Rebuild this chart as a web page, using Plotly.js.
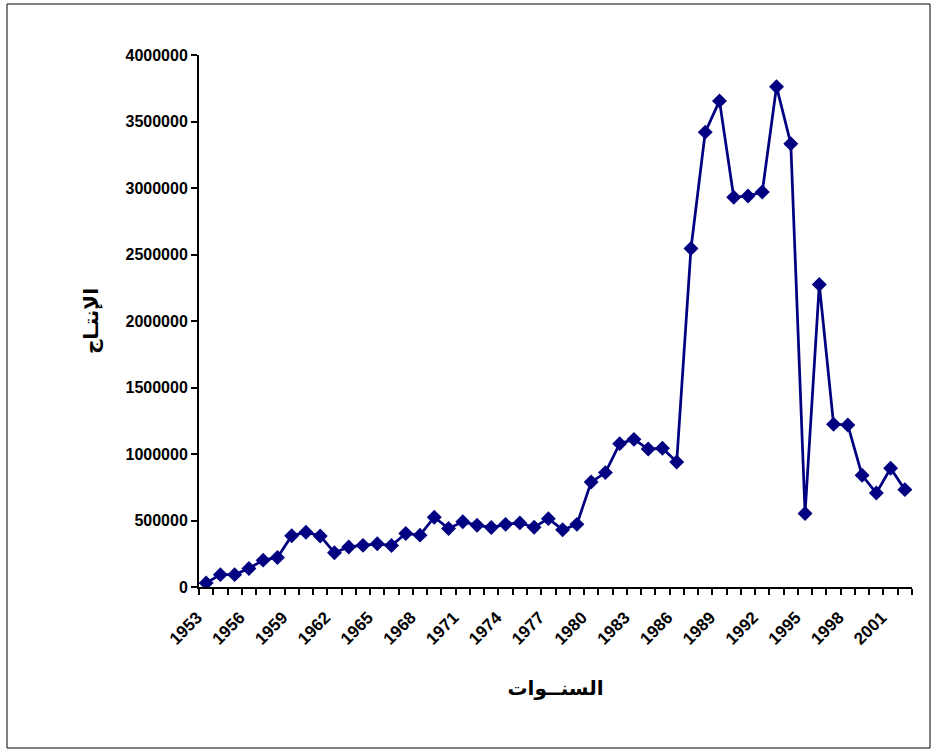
<!DOCTYPE html>
<html>
<head>
<meta charset="utf-8">
<script src="https://cdn.plot.ly/plotly-3.0.1.min.js"></script>
<style>
  html, body { margin: 0; padding: 0; background: #fff; }
  #chart { width: 937px; height: 755px; }
</style>
</head>
<body>
<div id="chart"></div>
<script>
// Years of observation
const years = [
  1953, 1954, 1955, 1956, 1957, 1958, 1959, 1960, 1961, 1962,
  1963, 1964, 1965, 1966, 1967, 1968, 1969, 1970, 1971, 1972,
  1973, 1974, 1975, 1976, 1977, 1978, 1979, 1980, 1981, 1982,
  1983, 1984, 1985, 1986, 1987, 1988, 1989, 1990, 1991, 1992,
  1993, 1994, 1995, 1996, 1997, 1998, 1999, 2000, 2001, 2002
];
// Production (الإنتاج)
const production = [
  30000, 93000, 93000, 139000, 202000, 222000, 386000, 412000, 384000, 258000,
  301000, 313000, 325000, 312000, 403000, 390000, 525000, 440000, 490000, 465000,
  447000, 471000, 482000, 449000, 514000, 431000, 471000, 789000, 860000, 1078000,
  1110000, 1037000, 1043000, 940000, 2545000, 3420000, 3655000, 2930000, 2940000, 2970000,
  3762000, 3333000, 553000, 2275000, 1224000, 1218000, 840000, 706000, 893000, 732000
];
// Labelled years on the category axis
const tickYears = [1953, 1956, 1959, 1962, 1965, 1968, 1971, 1974, 1977, 1980, 1983, 1986, 1989, 1992, 1995, 1998, 2001];
const tickLabels = tickYears.map(String);
const yTicks = [0, 500000, 1000000, 1500000, 2000000, 2500000, 3000000, 3500000, 4000000];
const xTitle = 'السنــوات';
const yTitle = 'الإنتـاج';

const navy = '#000080';
const fontFamily = '"Liberation Sans", Arial, "DejaVu Sans", sans-serif';

const trace = {
  x: years,
  y: production,
  type: 'scatter',
  mode: 'lines+markers',
  line: { color: navy, width: 2.75 },
  marker: { symbol: 'diamond', size: 11.5, color: navy },
  hoverinfo: 'x+y'
};

const L = 199, R = 25, T = 55, B = 168, W = 937, H = 755;
const pw = W - L - R, ph = H - T - B;
const px = v => (v - L) / pw;
const py = v => (H - B - v) / ph;

const layout = {
  width: W,
  height: H,
  margin: { l: L, r: R, t: T, b: B, pad: 0 },
  paper_bgcolor: '#ffffff',
  plot_bgcolor: '#ffffff',
  showlegend: false,
  font: { family: fontFamily, color: '#000000' },
  xaxis: {
    type: 'linear',
    range: [years[0] - 0.5, years[years.length - 1] + 0.5],
    tickmode: 'array',
    tickvals: tickYears,
    ticktext: tickLabels,
    tickangle: -45,
    ticks: '',
    ticklabelshift: -9,
    ticklabelstandoff: 12,
    showgrid: false,
    zeroline: false,
    showline: true,
    linecolor: '#000000',
    linewidth: 2,
    tickfont: { family: fontFamily, size: 17, color: '#000000', weight: 'bold' },
    minor: {
      tickmode: 'linear',
      tick0: years[0] - 0.5,
      dtick: 1,
      ticks: 'outside',
      ticklen: 6,
      tickwidth: 2,
      tickcolor: '#000000',
      showgrid: false
    },
    title: {
      text: xTitle,
      font: { family: '"DejaVu Sans", sans-serif', size: 20, color: '#000000', weight: 'bold' },
      standoff: 34
    },
    fixedrange: true
  },
  yaxis: {
    range: [0, 4000000],
    tickmode: 'array',
    tickvals: yTicks,
    tickformat: 'd',
    ticks: 'outside',
    ticklen: 6,
    tickwidth: 2,
    tickcolor: '#000000',
    showgrid: false,
    zeroline: false,
    showline: true,
    linecolor: '#000000',
    linewidth: 2,
    tickfont: { family: fontFamily, size: 16, color: '#000000', weight: 'bold' },
    title: {
      text: yTitle,
      font: { family: '"DejaVu Sans", sans-serif', size: 20, color: '#000000', weight: 'bold' },
      standoff: 22
    },
    fixedrange: true
  },
  shapes: [{
    type: 'rect',
    xref: 'paper', yref: 'paper',
    x0: px(7), x1: px(930), y0: py(748), y1: py(4),
    line: { color: '#000000', width: 1 },
    fillcolor: 'rgba(0,0,0,0)',
    layer: 'below'
  }]
};

Plotly.newPlot('chart', [trace], layout, { displayModeBar: false, staticPlot: true });
</script>
</body>
</html>
